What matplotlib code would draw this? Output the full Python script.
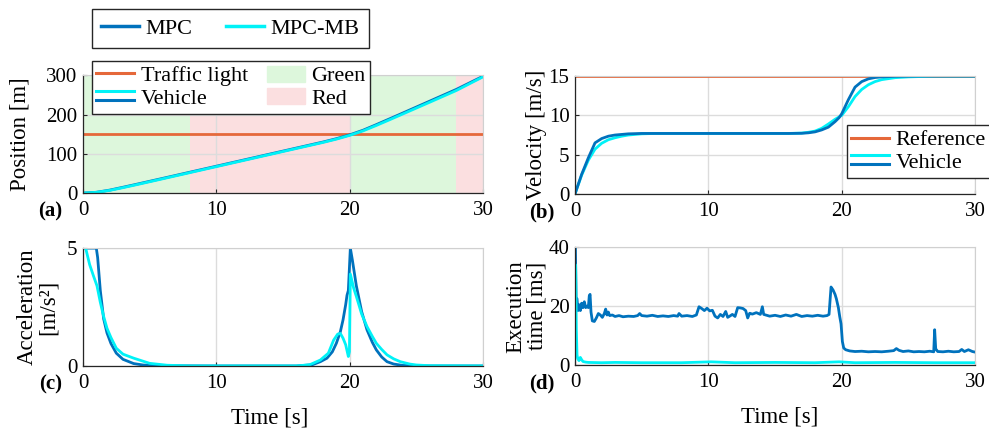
import matplotlib
matplotlib.use("Agg")
import matplotlib.pyplot as plt
from matplotlib.lines import Line2D
from matplotlib.patches import Patch

plt.rcParams['font.family'] = ['Liberation Serif', 'DejaVu Serif']
plt.rcParams['font.size'] = 15

BLUE = '#0072BD'
CYAN = '#00F2F7'
ORANGE = '#E5683A'
GREEN = '#DDF7DC'
RED = '#FBDFE0'

# --- data ---
light_pos = 150
v_ref = 15
green_phases = [(0, 8), (20, 28)]
red_phases = [(8, 20), (28, 30)]

t_pos = [0, 1, 2, 3, 4, 6, 8, 10, 12, 14, 16, 18, 19, 20, 21, 22, 23, 24, 26, 28, 30]
pos_mpc = [0, 2, 7.5, 14.8, 22.3, 37.6, 53, 68.4, 83.8, 99.2, 114.6, 130, 138.5, 148.2,
           160, 174.3, 189.1, 204, 234, 264, 297.5]
pos_mb = [0, 1.9, 6.8, 13.8, 21.2, 36.5, 51.9, 67.3, 82.7, 98.1, 113.5, 128.9, 137.3, 146.9,
          158.3, 172.2, 186.8, 201.6, 231.3, 261.2, 296]

t_vel_mpc = [0, 0.5, 1.0, 1.5, 2.0, 2.5, 3.0, 4.0, 5.0, 8, 12, 16, 17, 17.5, 18, 18.5,
             19.0, 19.5, 19.8, 20.0, 20.5, 21.0, 21.5, 22.0, 22.5, 23, 24, 26, 30]
vel_mpc = [0, 2.5, 4.6, 6.5, 7.05, 7.35, 7.5, 7.65, 7.7, 7.7, 7.7, 7.7, 7.72, 7.78, 7.9,
           8.15, 8.5, 9.2, 9.7, 10.2, 12.0, 13.6, 14.3, 14.65, 14.82, 14.9, 14.97, 15, 15]
t_vel_mb = [0, 0.5, 1.0, 1.5, 2.0, 2.5, 3.0, 3.5, 4, 5, 6, 8, 12, 16, 17, 17.5, 18, 18.5,
            19, 19.5, 20, 20.5, 21, 21.5, 22, 22.5, 23, 24, 25, 26, 27, 30]
vel_mb = [0, 2.4, 4.3, 5.7, 6.45, 6.9, 7.15, 7.35, 7.5, 7.65, 7.7, 7.7, 7.7, 7.7, 7.75,
          7.85, 8.0, 8.35, 8.9, 9.5, 10.0, 11.1, 12.4, 13.3, 13.9, 14.3, 14.55, 14.8,
          14.9, 14.95, 15, 15]

t_acc_mpc = [0.2, 0.4, 0.7, 1.0, 1.1, 1.3, 1.55, 1.8, 2.1, 2.5, 3.0, 3.8, 4.5, 5.5, 10, 16,
             17.2, 17.8, 18.3, 18.7, 19.0, 19.3, 19.5, 19.7, 19.8, 19.9, 20.05, 20.2, 20.5,
             20.9, 21.3, 21.7, 22.0, 22.4, 22.8, 23.3, 24, 26, 30]
acc_mpc = [5, 5, 5, 5, 4.6, 3.2, 2.0, 1.4, 0.95, 0.54, 0.28, 0.1, 0.04, 0.01, 0, 0,
           0.05, 0.18, 0.33, 0.6, 0.96, 1.45, 1.95, 2.6, 3.0, 3.2, 5.0, 4.5, 3.4,
           2.3, 1.53, 1.0, 0.68, 0.38, 0.18, 0.08, 0.02, 0, 0]
t_acc_mb = [0.2, 0.5, 0.8, 1.05, 1.3, 1.55, 1.8, 2.1, 2.5, 3.0, 3.8, 5.0, 6.3, 8, 16, 17.0,
            17.8, 18.4, 18.8, 19.1, 19.3, 19.5, 19.7, 19.9, 19.98, 20.05, 20.3, 20.5, 20.9,
            21.3, 21.7, 22.0, 22.4, 22.8, 23.3, 23.8, 24.5, 25, 26, 30]
acc_mb = [5, 4.3, 3.8, 3.4, 2.7, 2.1, 1.6, 1.2, 0.75, 0.5, 0.33, 0.11, 0.03, 0, 0, 0.05,
          0.25, 0.54, 1.1, 1.35, 1.38, 1.18, 0.9, 0.4, 0.6, 3.9, 3.3, 2.95, 2.2,
          1.67, 1.25, 0.96, 0.7, 0.47, 0.3, 0.18, 0.08, 0.04, 0.01, 0]

# execution time samples (t [s], ms)
exe_mpc_pts = [
    (0, 40), (0.03, 40), (0.08, 23), (0.15, 22.5), (0.22, 18.5), (0.3, 20.5), (0.4, 18.5),
    (0.5, 21), (0.6, 19.5), (0.7, 21.5), (0.8, 19.5), (0.9, 20), (1.0, 19.5), (1.07, 23.5),
    (1.13, 24), (1.2, 18), (1.3, 15), (1.45, 14.8), (1.6, 16), (1.75, 17.5), (1.9, 17),
    (2.05, 16.2), (2.2, 17.5), (2.3, 19), (2.4, 17), (2.5, 18), (2.6, 16.8), (2.8, 17),
    (3.0, 16.5), (3.3, 16.8), (3.6, 16.4), (4.0, 16.6), (4.4, 16.5), (4.7, 16.8),
    (4.85, 17.5), (5.0, 16.8), (5.4, 16.6), (5.8, 16.9), (6.2, 16.5), (6.6, 16.7),
    (7.0, 16.5), (7.4, 16.8), (7.7, 16.6), (7.8, 17.5), (8.0, 16.6), (8.4, 16.8),
    (8.8, 16.5), (9.1, 17), (9.3, 19.8), (9.5, 19.2), (9.7, 18.5), (9.9, 19.3),
    (10.1, 18.4), (10.3, 18.6), (10.5, 16.6), (10.7, 16), (10.9, 17.2), (11.1, 16.5),
    (11.3, 18.2), (11.45, 16.2), (11.6, 16.6), (11.8, 17.2), (12.0, 16.5), (12.2, 19.5),
    (12.4, 19.4), (12.6, 19.2), (12.8, 18.5), (12.95, 16), (13.1, 17.6), (13.3, 17.3),
    (13.6, 17.8), (13.9, 17.2), (14.05, 19.8), (14.15, 17.2), (14.3, 17), (14.6, 16.6),
    (15.0, 16.9), (15.4, 16.5), (15.8, 17), (16.2, 16.6), (16.6, 17.2), (17.0, 16.5),
    (17.4, 16.8), (17.8, 16.6), (18.2, 16.9), (18.6, 16.6), (18.9, 16.8), (19.05, 17.2),
    (19.2, 26.5), (19.35, 25.5), (19.5, 24), (19.6, 22.5), (19.75, 19.5), (19.85, 16.5),
    (19.95, 14), (20.05, 8), (20.15, 5.8), (20.3, 5.2), (20.6, 4.8), (21.0, 4.6),
    (21.5, 4.7), (22.0, 4.5), (22.5, 4.6), (23.0, 4.5), (23.5, 4.7), (23.9, 4.9),
    (24.1, 5.6), (24.3, 5.0), (24.6, 4.6), (25.0, 4.8), (25.4, 4.5), (25.8, 4.6),
    (26.2, 4.5), (26.6, 4.7), (26.9, 4.5), (26.97, 12), (27.05, 5.5), (27.2, 4.6),
    (27.6, 4.5), (28.0, 4.7), (28.4, 4.5), (28.8, 4.6), (29.0, 5.3), (29.2, 4.6),
    (29.5, 5.2), (29.8, 4.6), (30.0, 4.4),
]
exe_mb_pts = [
    (0, 34), (0.05, 34), (0.1, 12), (0.15, 3.5), (0.2, 2.2), (0.3, 1.5), (0.4, 2.6),
    (0.5, 1.8), (0.6, 1.2), (0.8, 1.0), (1.0, 0.9), (2.0, 0.8), (3.0, 0.9), (5.0, 0.8),
    (8.0, 0.8), (10.2, 1.1), (12.0, 0.8), (15.0, 0.9), (18.0, 0.8), (19.8, 1.1),
    (21.0, 0.8), (24.0, 0.9), (27.0, 0.8), (30.0, 0.8),
]
t_exe_mpc, exe_mpc = zip(*exe_mpc_pts)
t_exe_mb, exe_mb = zip(*exe_mb_pts)

x_ticks = [0, 10, 20, 30]
LEG_FS = 16
LAB_FS = 16.5


class DoubleLine:
    def legend_artist(self, legend, orig_handle, fontsize, handlebox):
        x0, y0 = handlebox.xdescent, handlebox.ydescent
        w, h = handlebox.width, handlebox.height
        top, bot = orig_handle
        l1 = Line2D([x0, x0 + w], [y0 + h * 0.8] * 2, color=top.get_color(), lw=2.2)
        l2 = Line2D([x0, x0 + w], [y0 + h * 0.2] * 2, color=bot.get_color(), lw=2.2)
        handlebox.add_artist(l1)
        handlebox.add_artist(l2)
        return l1


def style(ax, yticks, ylim, letter):
    ax.set_xlim(0, 30)
    ax.set_ylim(*ylim)
    ax.set_xticks(x_ticks)
    ax.set_yticks(yticks)
    ax.grid(True, color='#dcdcdc', lw=1.0)
    ax.set_axisbelow(True)
    ax.tick_params(direction='in', length=3, width=0.8, color='#262626', labelsize=15)
    ax.tick_params(axis='x', pad=6)
    ax.tick_params(axis='y', pad=4)
    for s in ['top', 'right']:
        ax.spines[s].set_color('#d0d0d0')
    for s in ['left', 'bottom']:
        ax.spines[s].set_color('#262626')
        ax.spines[s].set_linewidth(0.9)
    ax.text(-0.052, -0.075, letter, transform=ax.transAxes, ha='right', va='top',
            fontsize=15, fontweight='bold')


def make_legend(handles, labels, anchor, ncol=1, **kw):
    leg = fig.legend(handles, labels, ncol=ncol, loc='upper left', bbox_to_anchor=anchor,
                     fancybox=False, edgecolor='#262626', framealpha=1, fontsize=LEG_FS,
                     handlelength=1.7, handletextpad=0.3, borderaxespad=0,
                     handler_map={tuple: DoubleLine()}, **kw)
    leg.get_frame().set_linewidth(1.0)
    return leg


fig = plt.figure(figsize=(9.89, 4.30), dpi=100)
w, h = 0.4045, 0.274
ax_a = fig.add_axes([0.0839, 0.551, w, h])
ax_b = fig.add_axes([0.5814, 0.549, w, h])
ax_c = fig.add_axes([0.0839, 0.149, w, h])
ax_d = fig.add_axes([0.5814, 0.151, w, h])

# (a) position
for a, b in green_phases:
    ax_a.axvspan(a, b, color=GREEN, zorder=0.2, lw=0)
for a, b in red_phases:
    ax_a.axvspan(a, b, color=RED, zorder=0.2, lw=0)
ax_a.axhline(light_pos, color=ORANGE, lw=2)
ln_mpc, = ax_a.plot(t_pos, pos_mpc, color=BLUE, lw=2)
ln_mb, = ax_a.plot(t_pos, pos_mb, color=CYAN, lw=2)
style(ax_a, [0, 100, 200, 300], (0, 300), '(a)')
ax_a.set_ylabel('Position [m]', fontsize=LAB_FS)
ax_a.yaxis.set_label_coords(-0.13, 0.5)
make_legend([Line2D([], [], color=ORANGE, lw=2.2), (ln_mb, ln_mpc),
             Patch(color=GREEN), Patch(color=RED)],
            ['Traffic light', 'Vehicle', 'Green', 'Red'], (0.093, 0.858), ncol=2,
            handleheight=0.75, borderpad=0.2, labelspacing=0.08, columnspacing=0.85)

# (b) velocity
ax_b.axhline(v_ref, color=ORANGE, lw=2)
ax_b.plot(t_vel_mb, vel_mb, color=CYAN, lw=2)
ax_b.plot(t_vel_mpc, vel_mpc, color=BLUE, lw=2)
style(ax_b, [0, 5, 10, 15], (0, 15), '(b)')
ax_b.set_ylabel('Velocity [m/s]', fontsize=LAB_FS)
ax_b.yaxis.set_label_coords(-0.07, 0.5)
make_legend([Line2D([], [], color=ORANGE, lw=2.2), (ln_mb, ln_mpc)],
            ['Reference', 'Vehicle'], (0.8564, 0.709),
            handleheight=0.75, borderpad=0.2, labelspacing=0.08)

# (c) acceleration
ax_c.plot(t_acc_mpc, acc_mpc, color=BLUE, lw=2)
ax_c.plot(t_acc_mb, acc_mb, color=CYAN, lw=2)
style(ax_c, [0, 5], (0, 5), '(c)')
ax_c.set_ylabel('Acceleration\n[m/s²]', fontsize=LAB_FS, linespacing=1.0)
ax_c.yaxis.set_label_coords(-0.06, 0.5)
ax_c.set_xlabel('Time [s]', fontsize=LAB_FS)
ax_c.xaxis.set_label_coords(0.4675, -0.355)

# (d) execution time
ax_d.plot(t_exe_mpc, exe_mpc, color=BLUE, lw=2)
ax_d.plot(t_exe_mb, exe_mb, color=CYAN, lw=2)
style(ax_d, [0, 20, 40], (0, 40), '(d)')
ax_d.set_ylabel('Execution\ntime [ms]', fontsize=LAB_FS, linespacing=1.0)
ax_d.yaxis.set_label_coords(-0.07, 0.5)
ax_d.set_xlabel('Time [s]', fontsize=LAB_FS)
ax_d.xaxis.set_label_coords(0.5125, -0.355)

# top legend
make_legend([Line2D([], [], color=BLUE, lw=2.5), Line2D([], [], color=CYAN, lw=2.5)],
            ['MPC', 'MPC-MB'], (0.093, 0.979), ncol=2,
            borderpad=0.42, columnspacing=1.5)

fig.savefig('out.png', dpi=100)
